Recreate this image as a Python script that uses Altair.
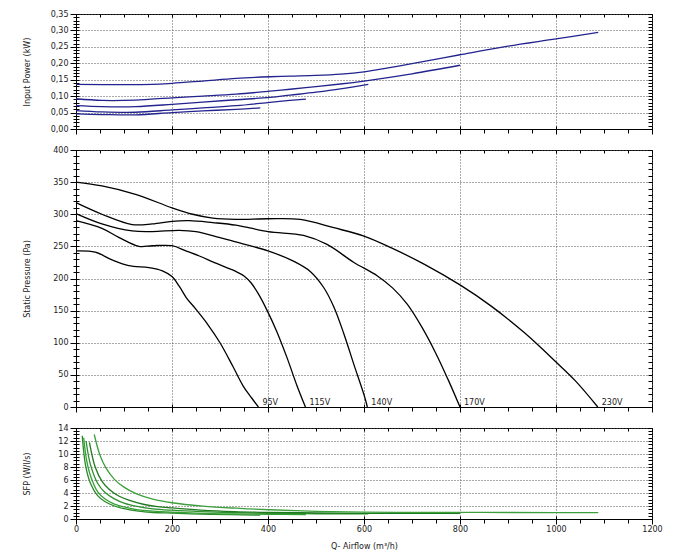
import altair as alt
import pandas as pd

volts = ["95V", "115V", "140V", "170V", "230V"]

# ---- Input power (kW) ----
pw_q_95 = [0, 54, 124, 200, 264, 334, 384]
pw_v_95 = [0.046, 0.044, 0.043, 0.050, 0.055, 0.060, 0.064]
pw_q_115 = [0, 54, 124, 200, 264, 334, 404, 446, 479]
pw_v_115 = [0.056, 0.052, 0.051, 0.058, 0.064, 0.071, 0.081, 0.087, 0.091]
pw_q_140 = [0, 54, 124, 200, 264, 334, 404, 446, 500, 551, 609]
pw_v_140 = [0.071, 0.068, 0.068, 0.075, 0.082, 0.089, 0.096, 0.103, 0.112, 0.122, 0.136]
pw_q_170 = [0, 54, 124, 200, 264, 334, 404, 446, 500, 551, 600, 700, 800]
pw_v_170 = [0.092, 0.087, 0.088, 0.095, 0.100, 0.106, 0.115, 0.121, 0.129, 0.137, 0.146, 0.168, 0.194]
pw_q_230 = [0, 159, 200, 264, 334, 404, 446, 500, 552, 600, 650, 700, 800, 900, 1000, 1088]
pw_v_230 = [0.136, 0.136, 0.139, 0.146, 0.154, 0.159, 0.161, 0.163, 0.167, 0.174, 0.186, 0.199, 0.226, 0.252, 0.274, 0.294]

# ---- Static pressure (Pa) ----
sp_q_95 = [0, 40, 75, 110, 152, 180, 200, 215, 230, 250, 275, 300, 327, 348, 366, 380]
sp_v_95 = [243, 241, 229, 220, 217, 212, 203, 188, 170, 152, 128, 100, 63, 33, 14, 0]
sp_q_115 = [0, 54, 89, 131, 159, 200, 229, 257, 285, 310, 333, 350, 365, 380, 397, 418, 439, 460, 478]
sp_v_115 = [290, 278, 264, 250, 251, 251, 243, 235, 226, 218, 211, 204, 193, 176, 152, 118, 78, 34, 0]
sp_q_140 = [0, 54, 117, 159, 215, 250, 298, 327, 400, 453, 488, 516, 537, 558, 579, 600, 607]
sp_v_140 = [301, 285, 274, 273, 275, 273, 264, 258, 243, 227, 211, 186, 156, 114, 66, 19, 0]
sp_q_170 = [0, 54, 117, 159, 200, 236, 285, 333, 400, 474, 523, 579, 628, 660, 690, 720, 750, 775, 800]
sp_v_170 = [318, 300, 284, 285, 289, 290, 287, 283, 273, 267, 253, 225, 204, 185, 160, 125, 83, 43, 0]
sp_q_230 = [0, 54, 124, 200, 243, 285, 333, 400, 467, 537, 600, 656, 726, 800, 865, 935, 1000, 1040, 1087]
sp_v_230 = [350, 344, 331, 310, 300, 294, 292, 293, 292, 279, 266, 248, 222, 190, 157, 115, 70, 41, 0]

# ---- SFP (W/l/s) ----
sfp_q_95 = [13, 20, 30, 45, 60, 80, 100, 130, 160, 200, 260, 320, 384]
sfp_v_95 = [12.8, 8.2, 5.5, 3.6, 2.7, 2.0, 1.6, 1.2, 1.0, 0.9, 0.76, 0.67, 0.6]
sfp_q_115 = [16, 22, 30, 45, 60, 80, 100, 130, 160, 200, 260, 330, 400, 479]
sfp_v_115 = [12.5, 9.1, 6.7, 4.2, 3.1, 2.3, 1.85, 1.4, 1.2, 1.04, 0.88, 0.77, 0.73, 0.68]
sfp_q_140 = [21, 30, 45, 60, 80, 100, 130, 160, 200, 260, 330, 400, 500, 609]
sfp_v_140 = [12.0, 8.4, 5.5, 4.1, 3.1, 2.45, 1.9, 1.57, 1.35, 1.13, 0.97, 0.86, 0.81, 0.81]
sfp_q_170 = [28, 40, 55, 70, 90, 110, 140, 170, 200, 260, 330, 400, 500, 600, 700, 800]
sfp_v_170 = [11.8, 8.0, 5.7, 4.5, 3.5, 2.9, 2.27, 1.9, 1.7, 1.38, 1.15, 1.03, 0.94, 0.88, 0.87, 0.87]
sfp_q_230 = [38, 50, 62, 80, 100, 125, 160, 200, 264, 334, 404, 500, 600, 700, 800, 906, 1000, 1088]
sfp_v_230 = [13.0, 9.8, 7.9, 6.1, 4.9, 3.9, 3.06, 2.5, 1.99, 1.66, 1.42, 1.18, 1.05, 1.02, 1.01, 1.0, 0.99, 0.97]

# voltage labels on pressure curves
label_q = [380, 478, 607, 800, 1087]

x_major = [0, 200, 400, 600, 800, 1000, 1200]
x_minor = list(range(0, 1201, 50))


def frame(pairs):
    rows = []
    for v, (qs, vals) in zip(volts, pairs):
        for q, val in zip(qs, vals):
            rows.append({"q": q, "val": val, "v": v})
    return pd.DataFrame(rows)


df_pw = frame([(pw_q_95, pw_v_95), (pw_q_115, pw_v_115), (pw_q_140, pw_v_140),
               (pw_q_170, pw_v_170), (pw_q_230, pw_v_230)])
df_sp = frame([(sp_q_95, sp_v_95), (sp_q_115, sp_v_115), (sp_q_140, sp_v_140),
               (sp_q_170, sp_v_170), (sp_q_230, sp_v_230)])
df_sfp = frame([(sfp_q_95, sfp_v_95), (sfp_q_115, sfp_v_115), (sfp_q_140, sfp_v_140),
                (sfp_q_170, sfp_v_170), (sfp_q_230, sfp_v_230)])
df_lab = pd.DataFrame({"q": label_q, "val": [0] * 5, "v": volts})

FONT = "DejaVu Sans"


def panel(df, colors, ymax, ymajor, yminor, ytitle, height, bottom, label_expr=None, labels_df=None):
    xs = alt.Scale(domain=[0, 1200], nice=False, zero=False)
    ys = alt.Scale(domain=[0, ymax], nice=False, zero=False)
    base = alt.Chart(df)

    xaxis_kw = dict(values=x_major, grid=True, gridDash=[1, 2], gridColor="#555",
                    tickSize=5, labels=bottom, domainColor="#000", labelPadding=1,
                    format="d", labelFlush=False)
    if bottom:
        xaxis_kw["title"] = "Q- Airflow (m³/h)"
        xaxis_kw["titlePadding"] = 9
    else:
        xaxis_kw["title"] = None
    yaxis_kw = dict(values=ymajor, grid=True, gridDash=[1, 2], gridColor="#555",
                    tickSize=6, labelPadding=2, title=ytitle, titlePadding=15,
                    minExtent=30, maxExtent=30, domainColor="#000", labelFlush=False)
    if label_expr:
        yaxis_kw["labelExpr"] = label_expr

    main = base.mark_line(strokeWidth=1.3, interpolate="catmull-rom").encode(
        x=alt.X("q:Q", scale=xs, axis=alt.Axis(**xaxis_kw)),
        y=alt.Y("val:Q", scale=ys, axis=alt.Axis(**yaxis_kw)),
        color=alt.Color("v:N", scale=alt.Scale(domain=volts, range=colors), legend=None),
        detail="v:N",
    )
    minor_out = base.mark_line(strokeOpacity=0).encode(
        x=alt.X("q:Q", scale=xs, axis=alt.Axis(orient="bottom", values=x_minor, tickSize=4,
                                                labels=False, domain=False, grid=False, title=None)),
        y=alt.Y("val:Q", scale=ys, axis=alt.Axis(orient="left", values=yminor, tickSize=3,
                                                  labels=False, domain=False, grid=False, title=None)),
        detail="v:N",
    )
    inner_tr = base.mark_line(strokeOpacity=0).encode(
        x=alt.X("q:Q", scale=xs, axis=alt.Axis(orient="top", offset=-3, values=x_minor, tickSize=3,
                                                labels=False, domain=False, grid=False, title=None)),
        y=alt.Y("val:Q", scale=ys, axis=alt.Axis(orient="right", offset=-4, values=yminor, tickSize=4,
                                                  labels=False, domain=False, grid=False, title=None)),
        detail="v:N",
    )
    inner_bl = base.mark_line(strokeOpacity=0).encode(
        x=alt.X("q:Q", scale=xs, axis=alt.Axis(orient="bottom", offset=-3, values=x_major, tickSize=3,
                                                labels=False, domain=False, grid=False, title=None)),
        y=alt.Y("val:Q", scale=ys, axis=alt.Axis(orient="left", offset=-3, values=yminor, tickSize=3,
                                                  labels=False, domain=False, grid=False, title=None)),
        detail="v:N",
    )
    layers = [main, minor_out, inner_tr, inner_bl]
    if labels_df is not None:
        txt = alt.Chart(labels_df).mark_text(align="left", baseline="alphabetic", dx=4, dy=-2,
                                             fontSize=8, font=FONT, color="#222").encode(
            x=alt.X("q:Q", scale=xs, axis=None),
            y=alt.Y("val:Q", scale=ys, axis=None),
            text="v:N",
        )
        layers.append(txt)
    return alt.layer(*layers).resolve_axis(x="independent", y="independent").properties(
        width=576, height=height)


navy = ["#23238f"] * 5
black = ["#000000"] * 5
greens = ["#2a8a2a", "#36a036", "#2d8f2d", "#1f7a1f", "#3c9f3c"]

top = panel(df_pw, navy, 0.35,
            [0, 0.05, 0.10, 0.15, 0.20, 0.25, 0.30, 0.35],
            [round(i * 0.01, 2) for i in range(36)],
            "Input Power (kW)", 115, False,
            label_expr="replace(format(datum.value, '.2f'), '.', ',')")
mid = panel(df_sp, black, 400, list(range(0, 401, 50)), list(range(0, 401, 10)),
            "Static Pressure (Pa)", 257, False, labels_df=df_lab)
bot = panel(df_sfp, greens, 14, list(range(0, 15, 2)), [i * 0.5 for i in range(29)],
            "SFP (W/l/s)", 91, True)

chart = alt.vconcat(top, mid, bot, spacing=21, bounds="flush").resolve_scale(
    color="independent"
).properties(
    padding={"left": 14, "top": 1, "right": 5, "bottom": 5}
).configure_view(stroke="#000", strokeWidth=1).configure_axis(
    labelFont=FONT, labelFontSize=8, labelColor="#222",
    titleFont=FONT, titleFontSize=8, titleFontWeight="normal", titleColor="#222",
    tickColor="#000", tickWidth=1, domainWidth=1,
)

chart.save("out.html", embed_options={"renderer": "svg", "actions": False})
